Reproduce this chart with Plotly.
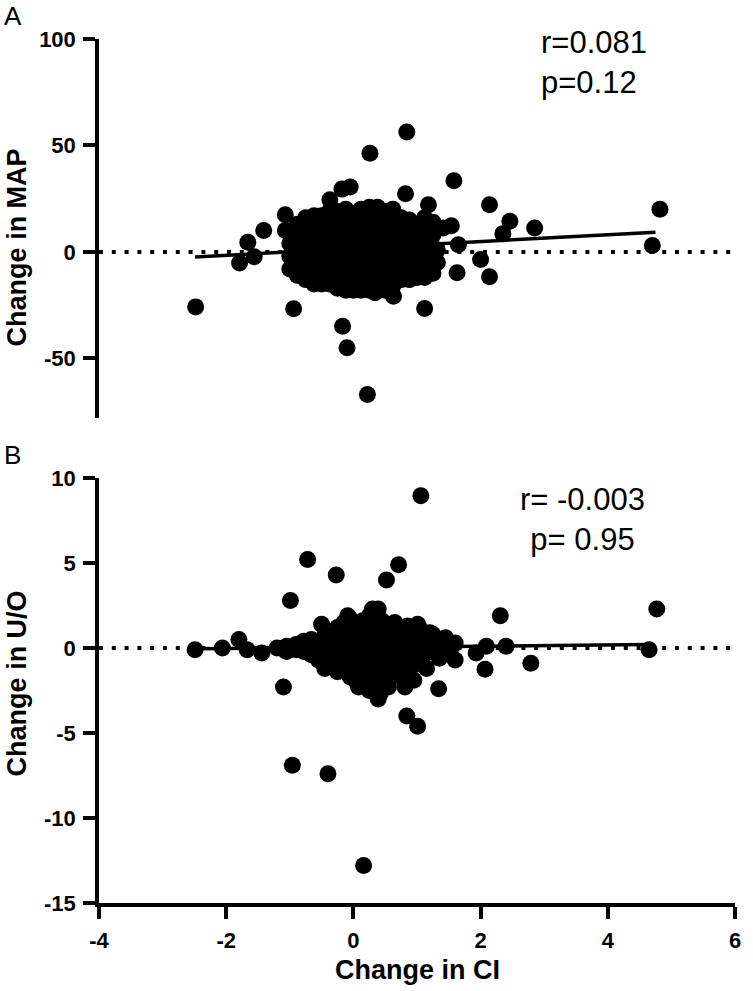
import plotly.graph_objects as go

# ---------------- Panel A: Change in CI vs Change in MAP ----------------
a_x = [-2.48, 0.26, -0.94, -0.17, -0.10, 0.22, -1.41, -1.66, -1.79, -1.56,
       -1.07, -1.07, -0.37, -0.18, -0.05, 0.84, 1.58, 2.14, 2.46, 2.85,
       2.35, 2.00, 2.14, 1.63, 1.12, 0.63, 0.82, 1.18, 1.54, 1.41,
       1.65, 4.82, 4.70, 0.34,
       -1.00, -1.00, -1.00, -1.00,
       -0.88, -0.88, -0.88, -0.88, -0.88,
       -0.75, -0.75, -0.75, -0.75, -0.75, -0.75,
       -0.62, -0.62, -0.62, -0.62, -0.62, -0.62, -0.62,
       -0.50, -0.50, -0.50, -0.50, -0.50, -0.50, -0.50,
       -0.38, -0.38, -0.38, -0.38, -0.38, -0.38, -0.38, -0.38,
       -0.25, -0.25, -0.25, -0.25, -0.25, -0.25, -0.25,
       -0.12, -0.12, -0.12, -0.12, -0.12, -0.12, -0.12, -0.12,
       0.00, 0.00, 0.00, 0.00, 0.00, 0.00, 0.00,
       0.12, 0.12, 0.12, 0.12, 0.12, 0.12, 0.12, 0.12,
       0.25, 0.25, 0.25, 0.25, 0.25, 0.25, 0.25, 0.25,
       0.38, 0.38, 0.38, 0.38, 0.38, 0.38, 0.38, 0.38,
       0.50, 0.50, 0.50, 0.50, 0.50, 0.50, 0.50,
       0.62, 0.62, 0.62, 0.62, 0.62, 0.62, 0.62,
       0.75, 0.75, 0.75, 0.75, 0.75, 0.75,
       0.88, 0.88, 0.88, 0.88, 0.88, 0.88,
       1.00, 1.00, 1.00, 1.00, 1.00,
       1.12, 1.12, 1.12, 1.12, 1.12, 1.12,
       1.25, 1.25, 1.25, 1.25, 1.25,
       1.32, 1.32]
a_y = [-25.8, 46.4, -26.7, -34.9, -45.0, -66.9, 10.1, 4.5, -5.2, -2.3,
       17.5, 10.1, 24.5, 29.5, 30.5, 56.3, 33.4, 22.2, 14.4, 11.2,
       8.6, -3.6, -11.7, -9.8, -26.6, -20.8, 27.3, 22.2, 12.3, 11.2,
       3.4, 20.1, 3.0, -19.2,
       -8, -2, 4, 9,
       -11, -5, 1, 7, 13,
       -13, -7, -1, 5, 11, 16,
       -15, -10, -4, 2, 8, 14, 17,
       -15, -12, -6, 0, 6, 12, 17,
       -15, -13, -7, -1, 5, 11, 16, 19,
       -17, -11, -5, 1, 7, 13, 19,
       -18, -14, -8, -2, 4, 10, 16, 20,
       -18, -12, -6, 0, 6, 12, 18,
       -18, -15, -9, -3, 3, 9, 15, 20,
       -18, -13, -7, -1, 5, 11, 17, 21,
       -18, -16, -10, -4, 2, 8, 14, 21,
       -18, -12, -6, 0, 6, 12, 19,
       -16, -10, -4, 2, 8, 14, 20,
       -13, -8, -2, 4, 10, 16,
       -13, -9, -3, 3, 9, 15,
       -12, -6, 1, 7, 13,
       -12, -6, 0, 6, 12, 16,
       -10, -4, 2, 8, 14,
       -5, 1]
a_fit_x = [-2.49, 4.75]
a_fit_y = [-2.4, 9.3]

# ---------------- Panel B: Change in CI vs Change in U/O ----------------
b_x = [-0.72, -0.27, -0.99, 0.52, 0.71, -2.49, -2.06, -1.80, -1.67, -1.44,
       -1.10, -0.97, -1.10, -0.96, -0.40, 0.16, 1.06, 4.77, 2.31, 4.65,
       2.40, 2.09, 1.93, 2.07, 2.79, 1.60, 1.60, 1.34, 0.81, 0.84,
       1.01, 0.08, 0.39, -0.50, -0.09, 0.30, 0.39, 1.01, 1.20, 0.42,
       -1.20,
       -1.05, -1.05,
       -0.90, -0.90,
       -0.78, -0.78,
       -0.66, -0.66,
       -0.55, -0.55,
       -0.45, -0.45, -0.45,
       -0.35, -0.35,
       -0.25, -0.25, -0.25, -0.25,
       -0.15, -0.15, -0.15, -0.15,
       -0.05, -0.05, -0.05, -0.05, -0.05,
       0.05, 0.05, 0.05, 0.05, 0.05,
       0.15, 0.15, 0.15, 0.15, 0.15,
       0.25, 0.25, 0.25, 0.25, 0.25, 0.25,
       0.35, 0.35, 0.35, 0.35, 0.35,
       0.45, 0.45, 0.45, 0.45, 0.45,
       0.55, 0.55, 0.55, 0.55, 0.55,
       0.65, 0.65, 0.65, 0.65,
       0.75, 0.75, 0.75, 0.75,
       0.85, 0.85, 0.85, 0.85,
       0.95, 0.95, 0.95, 0.95,
       1.05, 1.05, 1.05,
       1.15, 1.15, 1.15,
       1.25, 1.25,
       1.35, 1.35,
       1.45, 1.45,
       1.55]
b_y = [5.2, 4.3, 2.8, 4.0, 4.9, -0.1, 0.0, 0.5, -0.1, -0.3,
       -0.07, 0.0, -2.3, -6.9, -7.4, -12.8, 8.95, 2.3, 1.9, -0.1,
       0.1, 0.1, -0.3, -1.25, -0.9, 0.3, -0.7, -2.4, -2.3, -4.0,
       -4.6, -2.3, -3.0, 1.4, 1.9, 2.3, 2.3, 1.4, 0.9, -2.7,
       0.0,
       0.1, -0.2,
       0.2, -0.1,
       0.4, -0.2,
       0.5, -0.4,
       0.2, -0.7,
       0.8, -0.3, -1.2,
       0.5, -0.6,
       1.2, 0.3, -0.6, -1.4,
       1.5, 0.6, -0.3, -1.0,
       1.7, 0.8, 0.0, -0.9, -1.7,
       1.3, 0.4, -0.5, -1.3, -2.0,
       1.6, 0.7, -0.2, -1.1, -1.9,
       1.9, 1.0, 0.1, -0.8, -1.6, -2.5,
       1.4, 0.5, -0.4, -1.3, -2.1,
       1.6, 0.7, -0.2, -1.1, -1.9,
       1.2, 0.3, -0.6, -1.5, -2.3,
       1.5, 0.6, -0.3, -1.2,
       1.0, 0.1, -0.8, -1.7,
       1.3, 0.4, -0.5, -1.4,
       0.8, -0.1, -1.0, -1.9,
       1.1, 0.2, -0.7,
       0.6, -0.3, -1.2,
       0.8, -0.1,
       0.3, -0.6,
       0.6, -0.2,
       0.1]
b_fit_x = [-2.49, 4.65]
b_fit_y = [-0.05, 0.2]

zero_x = [-4, 6]
zero_y = [0, 0]

x_ticks = [-4, -2, 0, 2, 4, 6]
x_tick_text = ["-4", "-2", "0", "2", "4", "6"]
a_ticks = [-50, 0, 50, 100]
a_tick_text = ["-50", "0", "50", "100"]
b_ticks = [-15, -10, -5, 0, 5, 10]
b_tick_text = ["-15", "-10", "-5", "0", "5", "10"]

BLACK = "black"
MSIZE = 17
tickfont = dict(family="Liberation Sans, Arial, sans-serif", size=22, color=BLACK, weight="bold")
dotdash = "4px,8.8px"

fig = go.Figure()

# Panel A traces
fig.add_trace(go.Scatter(x=zero_x, y=zero_y, mode="lines", xaxis="x2", yaxis="y2",
                         line=dict(color=BLACK, width=4, dash=dotdash), hoverinfo="skip"))
fig.add_trace(go.Scatter(x=a_x, y=a_y, mode="markers", xaxis="x2", yaxis="y2",
                         marker=dict(color=BLACK, size=MSIZE, line=dict(width=0))))
fig.add_trace(go.Scatter(x=a_fit_x, y=a_fit_y, mode="lines", xaxis="x2", yaxis="y2",
                         line=dict(color=BLACK, width=3.5)))

# Panel B traces
fig.add_trace(go.Scatter(x=zero_x, y=zero_y, mode="lines", xaxis="x", yaxis="y",
                         line=dict(color=BLACK, width=4, dash=dotdash), hoverinfo="skip"))
fig.add_trace(go.Scatter(x=b_x, y=b_y, mode="markers", xaxis="x", yaxis="y",
                         marker=dict(color=BLACK, size=MSIZE, line=dict(width=0))))
fig.add_trace(go.Scatter(x=b_fit_x, y=b_fit_y, mode="lines", xaxis="x", yaxis="y",
                         line=dict(color=BLACK, width=3.5)))

axis_common = dict(showgrid=False, zeroline=False, showline=True, linecolor=BLACK,
                   linewidth=3.5, ticks="outside", ticklen=12, tickwidth=3.5,
                   tickcolor=BLACK, tickfont=tickfont, ticklabelstandoff=3)

fig.update_layout(
    width=753, height=991,
    margin=dict(l=99, r=15, t=39, b=88),
    paper_bgcolor="white", plot_bgcolor="white",
    showlegend=False,
    xaxis=dict(domain=[0, 1], range=[-4, 6], anchor="y", tickvals=x_ticks,
               ticktext=x_tick_text, **axis_common),
    yaxis=dict(domain=[0, 0.4919], range=[-15, 10], anchor="x", tickvals=b_ticks,
               ticktext=b_tick_text, **axis_common),
    xaxis2=dict(domain=[0, 1], range=[-4, 6], anchor="y2", visible=False),
    yaxis2=dict(domain=[0.5613, 1], range=[-78, 100], anchor="x2", tickvals=a_ticks,
                ticktext=a_tick_text, **axis_common),
)

title_font = dict(family="Liberation Sans, Arial, sans-serif", size=27, color=BLACK, weight="bold")
label_font = dict(family="Liberation Sans, Arial, sans-serif", size=26, color=BLACK)
stat_font = dict(family="Liberation Sans, Arial, sans-serif", size=31, color=BLACK)

fig.add_annotation(text="Change in CI", xref="paper", yref="paper", x=0.5, y=(903 - 970) / 864,
                   xanchor="center", yanchor="middle", showarrow=False, font=title_font)
fig.add_annotation(text="Change in MAP", xref="paper", yref="paper", x=(17 - 99) / 639,
                   y=(903 - 247) / 864, textangle=-90, xanchor="center", yanchor="middle",
                   showarrow=False, font=title_font)
fig.add_annotation(text="Change in U/O", xref="paper", yref="paper", x=(17 - 99) / 639,
                   y=(903 - 683) / 864, textangle=-90, xanchor="center", yanchor="middle",
                   showarrow=False, font=title_font)
fig.add_annotation(text="A", xref="paper", yref="paper", x=(13 - 99) / 639, y=(903 - 16) / 864,
                   xanchor="center", yanchor="middle", showarrow=False, font=label_font)
fig.add_annotation(text="B", xref="paper", yref="paper", x=(12 - 99) / 639, y=(903 - 455) / 864,
                   xanchor="center", yanchor="middle", showarrow=False, font=label_font)
fig.add_annotation(text="r=0.081<br>p=0.12", xref="paper", yref="paper", x=(541 - 99) / 639,
                   y=(903 - 62.5) / 864, xanchor="left", yanchor="middle", align="left",
                   showarrow=False, font=stat_font)
fig.add_annotation(text="r= -0.003<br>p= 0.95", xref="paper", yref="paper", x=(585 - 99) / 639,
                   y=(903 - 519) / 864, xanchor="center", yanchor="middle", align="center",
                   showarrow=False, font=stat_font)

fig.write_html("out.html", config={"displayModeBar": False},
               post_script="document.body.style.margin='0px';")
